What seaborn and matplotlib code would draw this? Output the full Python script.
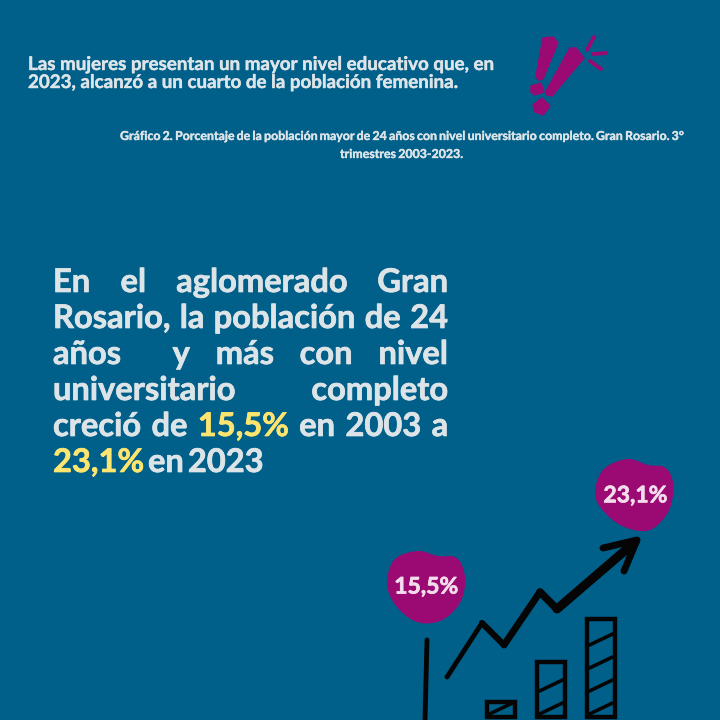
import numpy as np
import pandas as pd
import seaborn as sns
import matplotlib.pyplot as plt
import matplotlib.patheffects as pe

# datos
porcentajes = [15.5, 23.1]
anios = [2003, 2023]

titulo = ['Las mujeres presentan un mayor nivel educativo que, en',
          '2023, alcanzó a un cuarto de la población femenina.']
grafico = ['Gráfico 2. Porcentaje de la población mayor de 24 años con nivel universitario completo. Gran Rosario. 3°',
           'trimestres 2003-2023.']
parrafo = ['En el aglomerado Gran',
           'Rosario, la población de 24',
           'años  y más con nivel',
           'universitario  completo',
           'creció de 15,5% en 2003 a',
           '23,1% en 2023']
resaltado = ['15,5%', '23,1%']

# dibujo de barras, alturas aproximadas en px sobre el borde inferior
barras_cat = ['a', 'b', 'c']
barras_alto = [15, 55, 98]

# flecha
flecha_x = [447, 482, 504, 540, 557, 635]
flecha_y = [677, 623, 645, 592, 609, 542]
flecha_lw = [3.5, 4.5, 5, 5.5, 6.5]
punta_x = [603, 637, 624]
punta_y = [548, 540, 571]

# manchas
mancha_2023 = [(595, 495), (603, 470), (627, 459), (648, 465), (664, 467), (672, 478),
               (673, 495), (667, 514), (650, 530), (627, 528), (607, 515)]
mancha_2003 = [(387, 585), (394, 560), (417, 551), (438, 556), (455, 557), (463, 568),
               (465, 586), (458, 606), (440, 621), (417, 622), (397, 607)]

# signos de exclamacion
excl_1 = [(543, 38), (553, 37), (558, 43), (543, 79), (538, 80), (536, 76)]
excl_2 = [(570, 48), (576, 48), (584, 58), (552, 96), (547, 95), (546, 91)]
punto_1 = [(531, 86), (541, 83), (544, 92), (535, 95), (531, 92)]
punto_2 = [(533, 105), (542, 98), (550, 106), (543, 115), (535, 112)]
rayos = [((587, 50), (594, 37)), ((593, 54), (606, 53)), ((590, 61), (601, 69))]

FONDO = '#00608a'
MAGENTA = '#9a0a72'
CLARO = '#dde4e8'
AMARILLO = '#fde56f'
NEGRO = '#050505'

sns.set_theme(style='white')
plt.rcParams['font.family'] = ['Lato', 'DejaVu Sans']

fig = plt.figure(figsize=(7.2, 7.2), dpi=100, facecolor=FONDO)
ax = fig.add_axes([0, 0, 1, 1], facecolor=FONDO)
ax.set_xlim(0, 720)
ax.set_ylim(720, 0)
ax.axis('off')


def suave(puntos, n=12):
    # contorno cerrado suavizado (catmull-rom)
    p = np.array(puntos, dtype=float)
    salida = []
    for i in range(len(p)):
        p0, p1, p2, p3 = p[i - 1], p[i], p[(i + 1) % len(p)], p[(i + 2) % len(p)]
        for t in np.linspace(0, 1, n, endpoint=False):
            salida.append(0.5 * (2 * p1 + (p2 - p0) * t + (2 * p0 - 5 * p1 + 4 * p2 - p3) * t ** 2
                                 + (3 * p1 - p0 - 3 * p2 + p3) * t ** 3))
    return np.array(salida)


def grueso(w):
    return [pe.withStroke(linewidth=w, foreground=CLARO)]


def justificado(linea, y, x0, x1, size, gap_fijo=None, trazo=0.5):
    # reparte las palabras de una linea entre x0 y x1
    renderer = fig.canvas.get_renderer()
    palabras = linea.split(' ')
    textos = []
    for w in palabras:
        color = AMARILLO if w in resaltado else CLARO
        t = ax.text(0, y, w, fontsize=size, fontweight='bold', color=color, va='baseline', ha='left')
        t.set_path_effects([pe.withStroke(linewidth=trazo, foreground=color)])
        textos.append(t)
    anchos = [t.get_window_extent(renderer).width if t.get_text() else 0 for t in textos]
    if gap_fijo is None:
        gap = (x1 - x0 - sum(anchos)) / (len(palabras) - 1)
    else:
        gap = gap_fijo
    x = x0
    for t, a in zip(textos, anchos):
        t.set_x(x)
        x += a + gap


# encabezado
for linea, y in zip(titulo, [70, 88]):
    t = ax.text(28, y, linea, fontsize=13.5, fontweight='bold', color=CLARO, va='baseline')
    t.set_path_effects(grueso(0.3))
justificado(grafico[0], 140, 120, 684, 8.9, trazo=0.25)
justificado(grafico[1], 158, 340, 463, 8.9, gap_fijo=2, trazo=0.25)

# exclamacion
for forma in [excl_1, excl_2, punto_1, punto_2]:
    ax.fill(*zip(*forma), color=MAGENTA, lw=1, joinstyle='round')
for a, b in rayos:
    ax.plot(*zip(a, b), color=MAGENTA, lw=2.8, solid_capstyle='round')

# parrafo
base = [292, 328, 364, 400, 436, 472]
for i, linea in enumerate(parrafo):
    justificado(linea, base[i], 53, 448, 23.5, gap_fijo=None if i < 5 else 4)

# manchas con porcentaje
for forma, v in zip([mancha_2003, mancha_2023], porcentajes):
    c = suave(forma)
    ax.fill(c[:, 0], c[:, 1], color=MAGENTA, lw=0)
    t = ax.text(np.mean(c[:, 0]) - 4, np.mean(c[:, 1]) + 10, f'{v:.1f}%'.replace('.', ','), fontsize=16.5,
                fontweight='bold', color='#f3dcec', ha='center', va='baseline')
    t.set_path_effects([pe.withStroke(linewidth=0.5, foreground='#f3dcec')])

# flecha y eje del dibujo, el trazo engorda hacia la punta
df_flecha = pd.DataFrame({'x': flecha_x, 'y': flecha_y})
for i, lw in enumerate(flecha_lw):
    sns.lineplot(data=df_flecha.iloc[i:i + 2], x='x', y='y', sort=False, estimator=None, color=NEGRO, lw=lw,
                 solid_capstyle='round', ax=ax)
sns.lineplot(x=punta_x, y=punta_y, sort=False, estimator=None, color=NEGRO, lw=5, solid_capstyle='round',
             solid_joinstyle='round', ax=ax)
ax.plot([427, 425], [640, 720], color=NEGRO, lw=3.5, solid_capstyle='round')
ax.set_xlim(0, 720)
ax.set_ylim(720, 0)
ax.axis('off')

# barras del dibujo
ax_b = fig.add_axes([476 / 720, 0, 150 / 720, 120 / 720])
ax_b.patch.set_alpha(0)
df_barras = pd.DataFrame({'cat': barras_cat, 'alto': barras_alto})
sns.barplot(data=df_barras, x='cat', y='alto', width=0.56, fill=False, color=NEGRO, linewidth=3.2,
            err_kws={'linewidth': 0}, ax=ax_b)
for patch in ax_b.patches:
    patch.set_edgecolor(NEGRO)
    x0, ancho, alto = patch.get_x(), patch.get_width(), patch.get_height()
    for y in np.arange(6, alto - 6, 23):
        ax_b.plot([x0 + 0.05, x0 + ancho - 0.05], [y - 3, y + 8], color=NEGRO, lw=2.6, solid_capstyle='round')
ax_b.set_xlim(-0.5, 2.5)
ax_b.set_ylim(-3, 117)
ax_b.axis('off')

fig.savefig('out.png', dpi=100, facecolor=FONDO)
